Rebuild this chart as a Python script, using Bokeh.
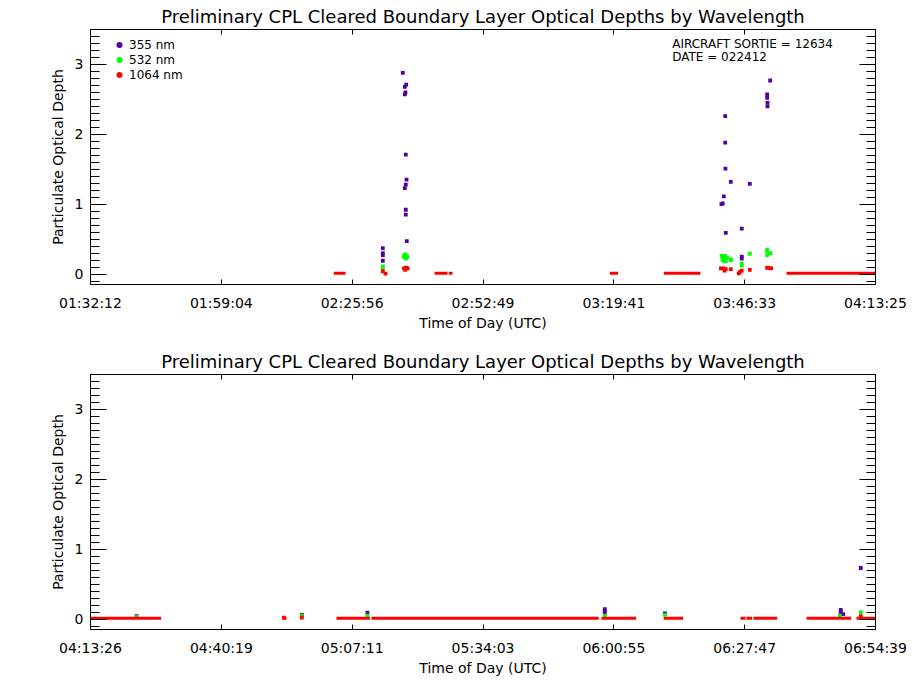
from bokeh.plotting import figure
from bokeh.models import Range1d, FixedTicker, LinearAxis, Legend, LegendItem, Label
from bokeh.layouts import column
from bokeh.embed import file_html
from bokeh.resources import INLINE

# ---------------- data ----------------
TITLE = "Preliminary CPL Cleared Boundary Layer Optical Depths by Wavelength"
top_tick_labels = ["01:32:12", "01:59:04", "02:25:56", "02:52:49", "03:19:41", "03:46:33", "04:13:25"]
bot_tick_labels = ["04:13:26", "04:40:19", "05:07:11", "05:34:03", "06:00:55", "06:27:47", "06:54:39"]
y_tick_values = [0, 1, 2, 3]
legend_labels = ["355 nm", "532 nm", "1064 nm"]
annot_lines = ["AIRCRAFT SORTIE = 12634", "DATE = 022412"]

# top panel (seconds of day, optical depth)
top_355_t = [9380, 9422, 9405, 9413, 9405, 9417, 9426, 9417, 9405, 9417, 9417, 9429,
             9134, 9134, 9134, 9134,
             13907, 13870, 13870, 13874, 13874, 13353, 13353, 13356, 13422, 13656,
             13336, 13323, 13307, 13360, 13557, 13557, 13557]
top_355_v = [2.88, 2.71, 2.68, 2.60, 2.57, 1.71, 1.35, 1.28, 1.23, 0.92, 0.85, 0.47,
             0.37, 0.30, 0.27, 0.19,
             2.77, 2.57, 2.52, 2.45, 2.40, 2.26, 1.88, 1.51, 1.32, 1.29,
             1.11, 1.01, 1.00, 0.59, 0.65, 0.25, 0.22]
top_532_t = [9134, 9134,
             9390, 9413, 9413, 9436, 9413, 9400, 9425,
             13310, 13330, 13345, 13360, 13350, 13375, 13330, 13320,
             13422, 13422, 13557, 13557, 13656, 13870, 13870, 13870, 13911]
top_532_v = [0.11, 0.09,
             0.25, 0.28, 0.22, 0.25, 0.25, 0.27, 0.23,
             0.26, 0.24, 0.22, 0.18, 0.26, 0.23, 0.19, 0.21,
             0.20, 0.21, 0.15, 0.12, 0.29, 0.35, 0.32, 0.27, 0.30]
top_1064_t = [9134, 9167,
              9395, 9420, 9440, 9410,
              13300, 13330, 13360, 13345, 13422, 13520, 13535, 13557, 13656, 13870, 13900, 13919]
top_1064_v = [0.04, 0.005,
              0.08, 0.09, 0.08, 0.06,
              0.08, 0.08, 0.07, 0.05, 0.07, 0.01, 0.03, 0.05, 0.06, 0.09, 0.085, 0.08]
# runs of near-zero 1064 nm samples: start, end, value
top_run_start = [8530, 9771, 9947, 11931, 12596, 14108]
top_run_end = [8674, 9931, 9993, 12034, 13048, 15205]
top_run_val = [0.01, 0.01, 0.01, 0.01, 0.01, 0.01]

# bottom panel
bot_355_t = [15773, 17810, 18619, 21543, 21543, 21543, 22283, 24451, 24451, 24451, 24481, 24698]
bot_355_v = [0.04, 0.06, 0.09, 0.14, 0.11, 0.08, 0.08, 0.13, 0.10, 0.07, 0.07, 0.73]
bot_532_t = [15773, 17810, 18619, 21543, 22283, 24440, 24698]
bot_532_v = [0.03, 0.05, 0.05, 0.05, 0.06, 0.05, 0.10]
bot_1064_t = [17810, 17590, 24698]
bot_1064_v = [0.02, 0.02, 0.04]
bot_run_start = [15206, 17572, 18237, 18668, 21503, 22270, 23215, 23289, 23375, 24029, 24645]
bot_run_end = [16077, 17621, 18648, 21469, 21930, 22509, 23277, 23359, 23668, 24579, 24879]
bot_run_val = [0.01] * 11

C355 = "#5200a0"
C532 = "#00ff00"
C1064 = "#ff0000"
FONT = "DejaVu Sans"


def hms(s):
    h, m, sec = (int(v) for v in s.split(":"))
    return h * 3600 + m * 60 + sec


def make_panel(tick_labels, height, border_top, border_bottom):
    ticks = [hms(s) for s in tick_labels]
    p = figure(width=912, height=height, output_backend="svg", toolbar_location=None,
               x_range=Range1d(ticks[0], ticks[-1]), y_range=Range1d(-0.15, 3.5),
               min_border_left=90, min_border_right=37, min_border_top=border_top,
               min_border_bottom=border_bottom, x_axis_type=None, y_axis_type=None)
    p.title.text = TITLE
    p.title.text_font = FONT
    p.title.text_font_size = "18px"
    p.title.text_font_style = "normal"
    p.title.text_color = "black"
    p.title.align = "center"
    p.title.standoff = 5
    p.grid.visible = False
    p.outline_line_color = "black"
    p.background_fill_color = "white"
    p.border_fill_color = "white"

    xt = FixedTicker(ticks=ticks, minor_ticks=[])
    yt = FixedTicker(ticks=y_tick_values, minor_ticks=[i / 10 for i in range(-1, 36)])
    overrides = {t: lab for t, lab in zip(ticks, tick_labels)}

    xb = LinearAxis(ticker=xt, major_label_overrides=overrides, axis_label="Time of Day (UTC)")
    xa = LinearAxis(ticker=xt, major_label_overrides={t: "" for t in ticks})
    yl = LinearAxis(ticker=yt, axis_label="Particulate Optical Depth")
    yr = LinearAxis(ticker=yt, major_label_overrides={t: "" for t in y_tick_values})
    for ax in (xb, xa):
        ax.major_tick_in = 5
        ax.major_tick_out = 0
        ax.minor_tick_in = 0
        ax.minor_tick_out = 0
    for ax in (yl, yr):
        ax.major_tick_in = 16
        ax.major_tick_out = 0
        ax.minor_tick_in = 9
        ax.minor_tick_out = 0
    for ax in (xb, xa, yl, yr):
        ax.axis_line_color = "black"
        ax.major_tick_line_color = "black"
        ax.minor_tick_line_color = "black"
        ax.major_label_text_font = FONT
        ax.major_label_text_color = "black"
        ax.axis_label_text_font = FONT
        ax.axis_label_text_font_style = "normal"
        ax.axis_label_text_color = "black"
    xb.major_label_text_font_size = "14px"
    xb.major_label_standoff = 10
    xb.axis_label_text_font_size = "14px"
    xb.axis_label_standoff = 1
    yl.major_label_text_font_size = "14px"
    yl.major_label_standoff = 7
    yl.axis_label_text_font_size = "14px"
    yl.axis_label_standoff = 6
    xa.major_label_text_font_size = "1px"
    xa.major_label_standoff = 0
    yr.major_label_text_font_size = "1px"
    yr.major_label_standoff = 0
    p.add_layout(xb, "below")
    p.add_layout(xa, "above")
    p.add_layout(yl, "left")
    p.add_layout(yr, "right")
    return p


def draw(p, t355, v355, t532, v532, t1064, v1064, rs, re, rv):
    p.scatter(t355, v355, marker="square", size=3.8, color=C355, line_width=0)
    p.scatter(t532, v532, marker="square", size=3.8, color=C532, line_width=0)
    p.segment(x0=rs, y0=rv, x1=re, y1=rv, line_color=C1064, line_width=3)
    p.scatter(t1064, v1064, marker="square", size=3.8, color=C1064, line_width=0)


p1 = make_panel(top_tick_labels, 346, 29, 62)
draw(p1, top_355_t, top_355_v, top_532_t, top_532_v, top_1064_t, top_1064_v,
     top_run_start, top_run_end, top_run_val)

# legend (symbols only; the renderers carry no visible data)
nan = float("nan")
leg_r = [p1.scatter([nan], [nan], marker="circle", size=9, color=c, line_width=0)
         for c in (C355, C532, C1064)]
legend = Legend(items=[LegendItem(label=l, renderers=[r]) for l, r in zip(legend_labels, leg_r)],
                location=(20, 202), orientation="vertical",
                label_text_font=FONT, label_text_font_size="12px", label_text_color="black",
                label_height=15, glyph_height=15, glyph_width=18, label_standoff=1,
                spacing=0, padding=0, margin=0,
                border_line_alpha=0, background_fill_alpha=0)
p1.add_layout(legend, "center")

# sortie annotation
ann_x = 12700
for txt, yv in zip(annot_lines, [3.286, 3.10]):
    p1.add_layout(Label(x=ann_x, y=yv, text=txt, text_font=FONT, text_font_size="12px",
                        text_baseline="middle", text_align="left", text_color="black"))

p2 = make_panel(bot_tick_labels, 332, 28, 49)
draw(p2, bot_355_t, bot_355_v, bot_532_t, bot_532_v, bot_1064_t, bot_1064_v,
     bot_run_start, bot_run_end, bot_run_val)

layout = column(p1, p2, spacing=0)
open("out.html", "w").write(file_html(layout, INLINE))
